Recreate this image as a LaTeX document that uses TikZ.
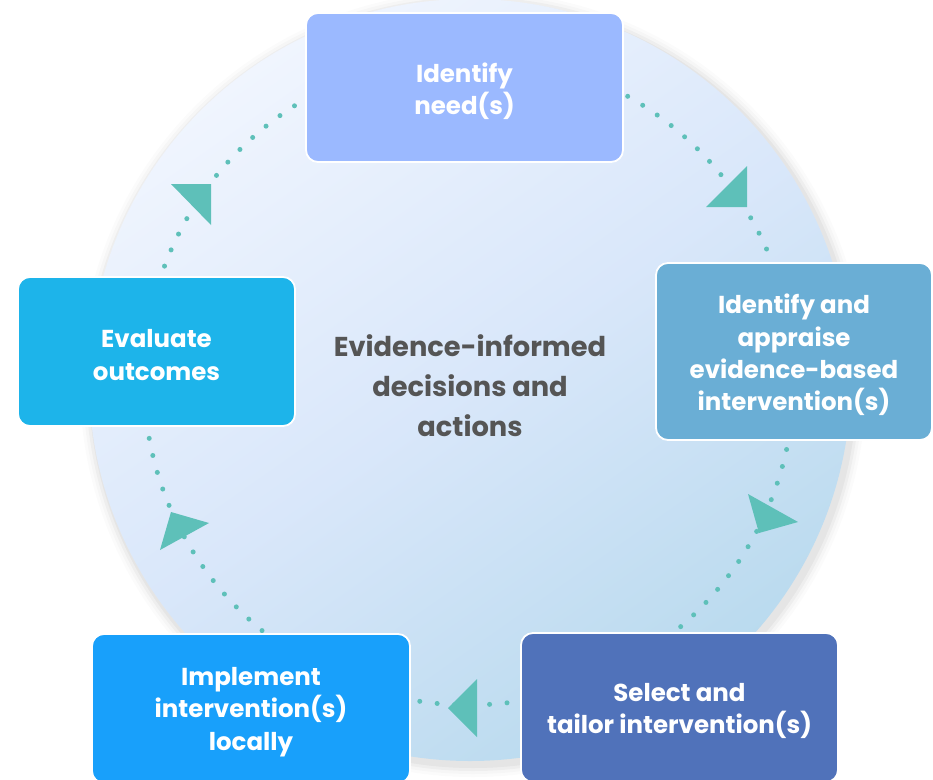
\documentclass[tikz,border=0pt]{standalone}
\usepackage{fontspec}
\setmainfont{Poppins}
\definecolor{topbox}{HTML}{9BB9FF}
\definecolor{rightbox}{HTML}{6AAED5}
\definecolor{brbox}{HTML}{5072BA}
\definecolor{blbox}{HTML}{18A0FB}
\definecolor{leftbox}{HTML}{1DB4EA}
\definecolor{teal0}{HTML}{5EC0B9}
\definecolor{textgray}{HTML}{555555}
\definecolor{circA}{HTML}{F0F5FE}
\definecolor{circB}{HTML}{D9E7FA}
\definecolor{circC}{HTML}{B9DAEE}
\begin{document}
\begin{tikzpicture}[x=1pt,y=-1pt,
  box/.style={draw=white, line width=1.8pt, rounded corners=12pt, inner sep=0pt},
  boxtext/.style={text=white, font=\bfseries\fontsize{24.5}{32.3}\selectfont,
    align=center, inner sep=0pt},
  tri/.style={fill=teal0, draw=none},
  dots/.style={draw=teal0, line width=5pt, line cap=round, dash pattern=on 0pt off 17.5pt}
  ]
\useasboundingbox (0,0) rectangle (933,779);
\clip (0,0) rectangle (933,779);
% soft shadow of the disc
\foreach \i/\o in {12/0.015, 9/0.02, 6/0.03, 3/0.04} {
  \fill[black, opacity=\o] (473,384) circle [radius=381+\i];
}
% disc
\shade[top color=circA, bottom color=circC, middle color=circB, shading angle=35]
  (470,380) circle [radius=381];
% dotted cycle
\draw[dots] (469,380) circle [radius=325];
% arrow heads
\fill[tri] (706,207) -- (747,166) -- (747,207) -- cycle;
\fill[tri] (748,494) -- (798,522) -- (759,533) -- cycle;
\fill[tri] (448,708) -- (477,679) -- (477,737) -- cycle;
\fill[tri] (171,512) -- (209,523) -- (160,550) -- cycle;
\fill[tri] (171,184) -- (211,184) -- (211,225) -- cycle;
% boxes
\node[box, fill=topbox, minimum width=317pt, minimum height=149pt] (need) at (464.5,87.5) {};
\node[box, fill=rightbox, minimum width=276pt, minimum height=177pt] (appraise) at (794,351.5) {};
\node[box, fill=brbox, minimum width=317pt, minimum height=149pt] (select) at (679.5,707.5) {};
\node[box, fill=blbox, minimum width=318pt, minimum height=149pt] (implement) at (251,708.5) {};
\node[box, fill=leftbox, minimum width=277pt, minimum height=149pt] (evaluate) at (156.5,351.5) {};
% box texts
\node[boxtext] (needT) at ([yshift=-3.5pt]need.center) {Identify\\need(s)};
\node[boxtext] (appraiseT) at ([yshift=-3.5pt]appraise.center) {Identify and\\appraise\\evidence-based\\intervention(s)};
\node[boxtext] (selectT) at ([yshift=-3.5pt]select.center) {Select and\\tailor intervention(s)};
\node[boxtext] (implementT) at ([yshift=-3.5pt]implement.center) {Implement\\intervention(s)\\locally};
\node[boxtext] (evaluateT) at ([yshift=-3.5pt]evaluate.center) {Evaluate\\outcomes};
% centre text
\node[text=textgray, font=\bfseries\fontsize{27.3}{40}\selectfont, align=center, inner sep=0pt] (centre) at (470,386) {Evidence-informed\\decisions and\\actions};
\end{tikzpicture}
\end{document}
